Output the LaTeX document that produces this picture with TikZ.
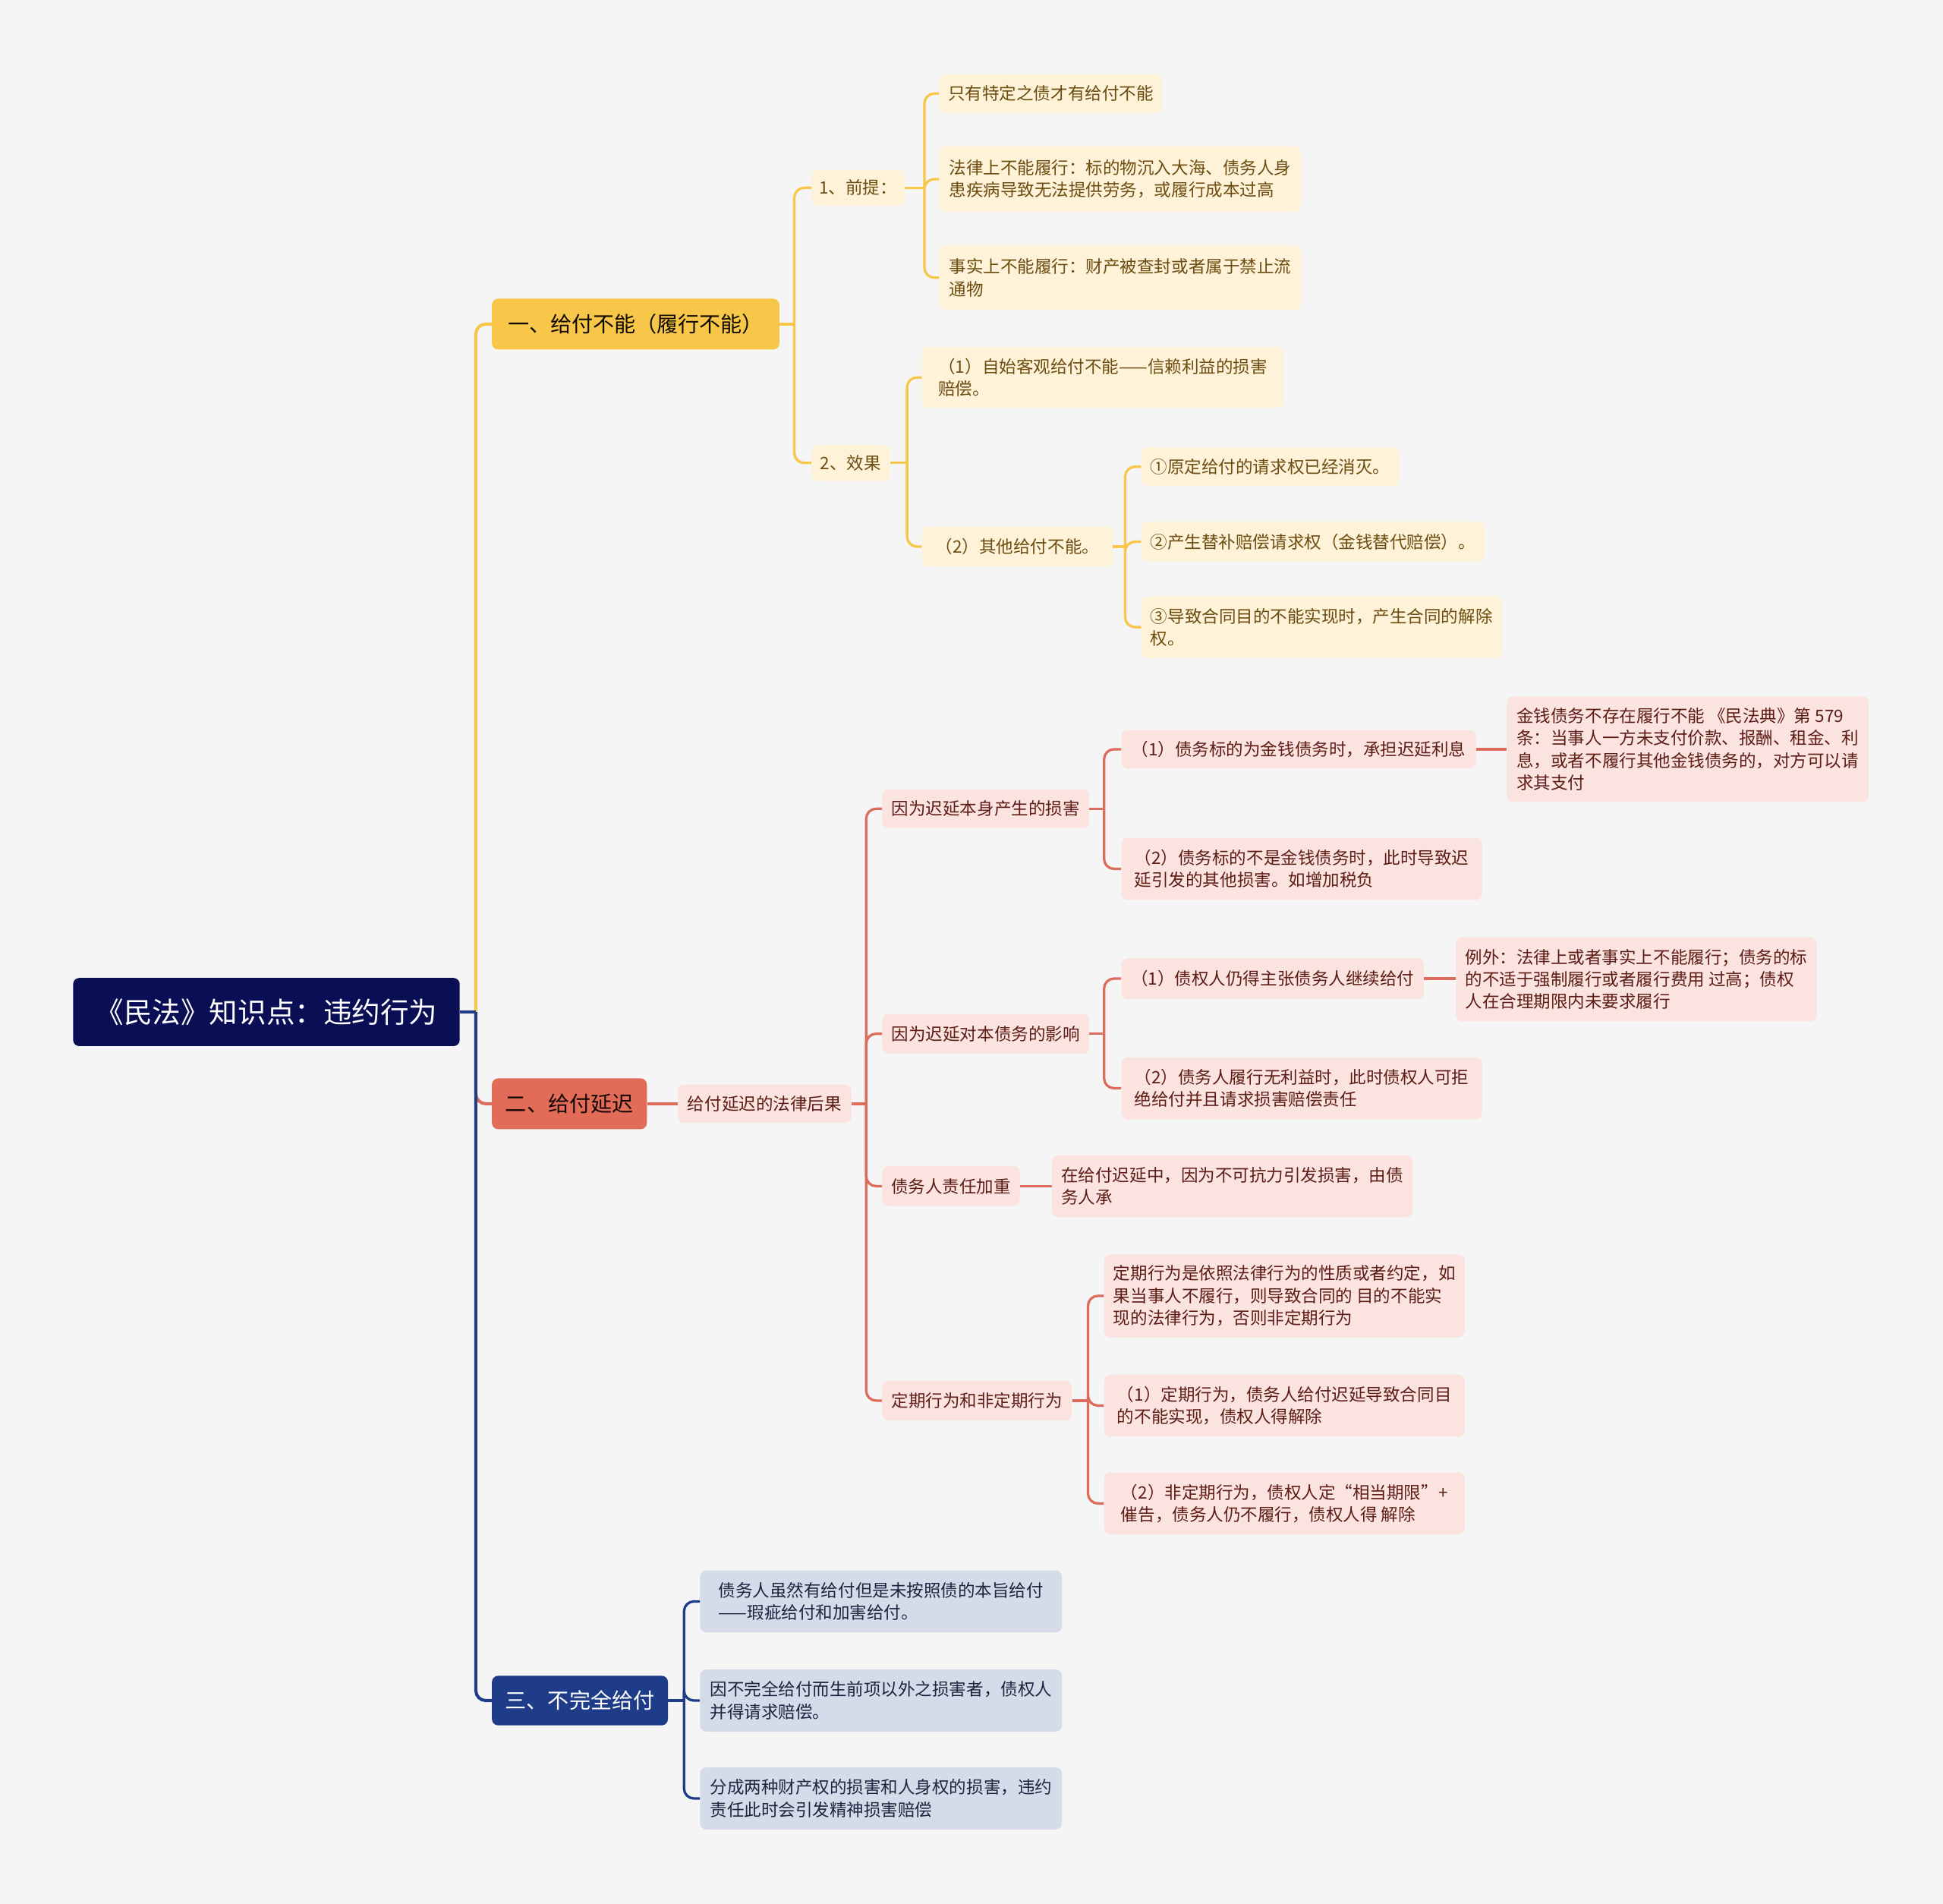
\documentclass[tikz,border=0pt]{standalone}
\usepackage{fontspec}
\setmainfont{Noto Sans CJK SC}
\usetikzlibrary{calc}
\definecolor{bgcol}{RGB}{245,245,245}
\definecolor{rootnavy}{RGB}{10,14,85}
\definecolor{yellowmain}{RGB}{248,198,72}
\definecolor{yellowleaf}{RGB}{254,243,216}
\definecolor{yellowtext}{RGB}{108,76,16}
\definecolor{coralmain}{RGB}{226,108,88}
\definecolor{coralline}{RGB}{221,108,92}
\definecolor{coralleaf}{RGB}{251,228,223}
\definecolor{coraltext}{RGB}{94,28,22}
\definecolor{bluemain}{RGB}{31,60,136}
\definecolor{blueleaf}{RGB}{214,219,233}
\definecolor{bluetext}{RGB}{30,36,64}
\tikzset{
    % box size in (shown) pixels
    wh/.style 2 args={minimum width=#1pt, minimum height=#2pt},
    % main topics
    topic/.style={rounded corners=5pt, inner sep=2pt, align=center,
        font=\fontsize{17.2}{21}\selectfont},
    rootnode/.style={topic, fill=rootnavy, text=white,
        font=\fontsize{23}{28}\selectfont},
    ytopic/.style={topic, fill=yellowmain, text=black!85!yellowtext},
    ctopic/.style={topic, fill=coralmain, text=black!80!coraltext},
    btopic/.style={topic, fill=bluemain, text=white},
    % sub nodes
    leaf/.style={rounded corners=5pt, inner sep=2pt, align=left,
        font=\fontsize{13.8}{18}\selectfont},
    yleaf/.style={leaf, fill=yellowleaf, text=yellowtext},
    cleaf/.style={leaf, fill=coralleaf, text=coraltext},
    bleaf/.style={leaf, fill=blueleaf, text=bluetext},
    % connectors
    yline/.style={draw=yellowmain, line width=2pt, rounded corners=8pt},
    cline/.style={draw=coralline, line width=2pt, rounded corners=8pt},
    bline/.style={draw=bluemain, line width=2pt, rounded corners=8pt},
}
\begin{document}
\begin{tikzpicture}[x=1pt,y=-1pt]
\fill[bgcol] (0,0) rectangle (1568,1536);
\useasboundingbox (0,0) rectangle (1568,1536);

% spines
\coordinate (s0) at (384,0);
\coordinate (s1) at (641,0);
\coordinate (s11) at (746,0);
\coordinate (s12) at (732,0);
\coordinate (s122) at (908,0);
\coordinate (s2) at (699,0);
\coordinate (s21) at (891,0);
\coordinate (s24) at (878,0);
\coordinate (s3) at (552,0);

% root and main topics
\node[rootnode, wh={312}{55}] (root) at (215,816.5) {《民法》知识点：违约行为};
\node[ytopic, wh={232}{41}] (t1) at (513,261.5) {一、给付不能（履行不能）};
\node[ctopic, wh={125}{41}] (t2) at (459.5,890.5) {二、给付延迟};
\node[btopic, wh={142}{40}] (t3) at (468,1372) {三、不完全给付};

% 一、给付不能
\node[yleaf, wh={75}{29}] (a1) at (692.5,151.5) {1、前提：};
\node[yleaf, wh={63}{29}] (a2) at (686.5,373.5) {2、效果};
\node[yleaf, wh={180}{31}] (a11) at (848,75.5) {只有特定之债才有给付不能};
\node[yleaf, wh={292}{53}] (a12) at (904,144.5)
    {法律上不能履行：标的物沉入大海、债务人身\\患疾病导致无法提供劳务，或履行成本过高};
\node[yleaf, wh={292}{52}] (a13) at (904,224)
    {事实上不能履行：财产被查封或者属于禁止流\\通物};
\node[yleaf, wh={292}{49}] (a21) at (890,304.5)
    {（1）自始客观给付不能——信赖利益的损害\\赔偿。};
\node[yleaf, wh={154}{32}] (a22) at (821,441) {（2）其他给付不能。};
\node[yleaf, wh={208}{31}] (a221) at (1025,376.5) {①原定给付的请求权已经消灭。};
\node[yleaf, wh={277}{32}] (a222) at (1059.5,437) {②产生替补赔偿请求权（金钱替代赔偿）。};
\node[yleaf, wh={291}{50}] (a223) at (1066.5,506)
    {③导致合同目的不能实现时，产生合同的解除\\权。};

% 二、给付延迟
\node[cleaf, wh={140}{31}] (c0) at (617,890.5) {给付延迟的法律后果};
\node[cleaf, wh={167}{31}] (c1) at (795.5,652.5) {因为迟延本身产生的损害};
\node[cleaf, wh={167}{32}] (c2) at (795.5,834) {因为迟延对本债务的影响};
\node[cleaf, wh={111}{32}] (c3) at (767.5,957) {债务人责任加重};
\node[cleaf, wh={153}{32}] (c4) at (788.5,1130) {定期行为和非定期行为};
\node[cleaf, wh={286}{31}] (c11) at (1048,604.5) {（1）债务标的为金钱债务时，承担迟延利息};
\node[cleaf, wh={292}{85}] (c111) at (1362,604.5)
    {金钱债务不存在履行不能 《民法典》第 579\\条：当事人一方未支付价款、报酬、租金、利\\息，或者不履行其他金钱债务的，对方可以请\\求其支付};
\node[cleaf, wh={291}{50}] (c12) at (1050.5,701)
    {（2）债务标的不是金钱债务时，此时导致迟\\延引发的其他损害。如增加税负};
\node[cleaf, wh={244}{33}] (c21) at (1027,789.5) {（1）债权人仍得主张债务人继续给付};
\node[cleaf, wh={291}{68}] (c211) at (1320.5,790)
    {例外：法律上或者事实上不能履行；债务的标\\的不适于强制履行或者履行费用 过高；债权\\人在合理期限内未要求履行};
\node[cleaf, wh={291}{50}] (c22) at (1050.5,878)
    {（2）债务人履行无利益时，此时债权人可拒\\绝给付并且请求损害赔偿责任};
\node[cleaf, wh={291}{50}] (c31) at (994.5,957)
    {在给付迟延中，因为不可抗力引发损害，由债\\务人承};
\node[cleaf, wh={291}{67}] (c41) at (1036.5,1045.5)
    {定期行为是依照法律行为的性质或者约定，如\\果当事人不履行，则导致合同的 目的不能实\\现的法律行为，否则非定期行为};
\node[cleaf, wh={291}{50}] (c42) at (1036.5,1134)
    {（1）定期行为，债务人给付迟延导致合同目\\的不能实现，债权人得解除};
\node[cleaf, wh={291}{50}] (c43) at (1036.5,1213)
    {（2）非定期行为，债权人定“相当期限”+\\催告，债务人仍不履行，债权人得 解除};

% 三、不完全给付
\node[bleaf, wh={292}{50}] (d1) at (711,1292)
    {债务人虽然有给付但是未按照债的本旨给付\\——瑕疵给付和加害给付。};
\node[bleaf, wh={292}{50}] (d2) at (711,1372)
    {因不完全给付而生前项以外之损害者，债权人\\并得请求赔偿。};
\node[bleaf, wh={292}{50}] (d3) at (711,1451)
    {分成两种财产权的损害和人身权的损害，违约\\责任此时会引发精神损害赔偿};

% root connectors
\draw[cline, line width=2.5pt] (root.east -| s0) |- (t2.west);
\draw[yline, line width=2.5pt] (root.east -| s0) |- (t1.west);
\draw[bline, line width=2.5pt] (root.east -| s0) |- (t3.west);
\draw[bline, line width=2.5pt] (root.east) -- (root.east -| s0);

% branch 1
\draw[yline] (t1.east) -- (t1.east -| s1);
\foreach \c in {a1,a2} \draw[yline] (t1.east -| s1) |- (\c.west);
\draw[yline] (a1.east) -- (a1.east -| s11);
\foreach \c in {a11,a12,a13} \draw[yline] (a1.east -| s11) |- (\c.west);
\draw[yline] (a2.east) -- (a2.east -| s12);
\foreach \c in {a21,a22} \draw[yline] (a2.east -| s12) |- (\c.west);
\draw[yline] (a22.east) -- (a22.east -| s122);
\foreach \c in {a221,a222,a223} \draw[yline] (a22.east -| s122) |- (\c.west);

% branch 2
\draw[cline] (t2.east) -- (c0.west);
\draw[cline] (c0.east) -- (c0.east -| s2);
\foreach \c in {c1,c2,c3,c4} \draw[cline] (c0.east -| s2) |- (\c.west);
\draw[cline] (c1.east) -- (c1.east -| s21);
\foreach \c in {c11,c12} \draw[cline] (c1.east -| s21) |- (\c.west);
\draw[cline] (c11.east) -- (c111.west);
\draw[cline] (c2.east) -- (c2.east -| s21);
\foreach \c in {c21,c22} \draw[cline] (c2.east -| s21) |- (\c.west);
\draw[cline] (c21.east) -- (c21.east -| c211.west);
\draw[cline] (c3.east) -- (c31.west);
\draw[cline] (c4.east) -- (c4.east -| s24);
\foreach \c in {c41,c42,c43} \draw[cline] (c4.east -| s24) |- (\c.west);

% branch 3
\draw[bline] (t3.east) -- (t3.east -| s3);
\foreach \c in {d1,d2,d3} \draw[bline] (t3.east -| s3) |- (\c.west);
\end{tikzpicture}
\end{document}
